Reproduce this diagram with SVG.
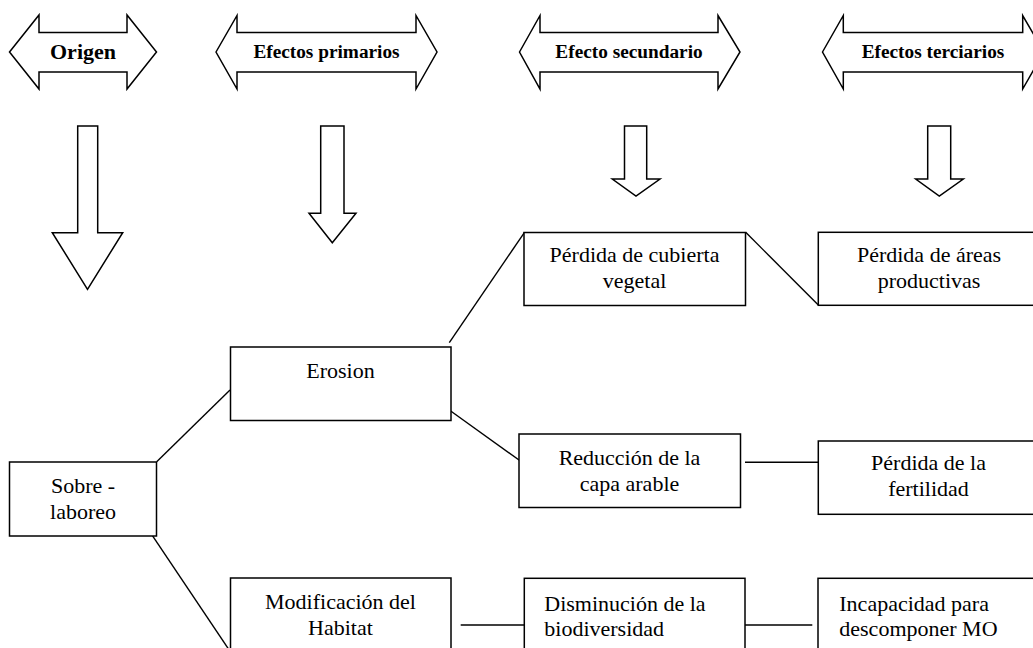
<svg xmlns="http://www.w3.org/2000/svg" width="1033" height="648" viewBox="0 0 1033 648">
<style>
.shape{fill:#fff;stroke:#000;stroke-width:1.5;stroke-linejoin:miter}
.box{fill:#fff;stroke:#000;stroke-width:1.5}
.conn{stroke:#000;stroke-width:1.4;fill:none}
.t{font-family:"Liberation Serif","Times New Roman",serif;font-size:22px;fill:#000}
.c{text-anchor:middle}
.h{font-family:"Liberation Serif","Times New Roman",serif;font-weight:bold;font-size:19.3px;fill:#000;text-anchor:middle}
</style>
<rect width="1033" height="648" fill="#fff"/>
<g id="hdr-origen">
<path class="shape" d="M9.5,52 L39,15 L39,32.5 L127,32.5 L127,15 L156.5,52 L127,89 L127,72 L39,72 L39,89 Z"/>
<text class="h" x="83" y="59" style="font-size:22px">Origen</text>
</g>
<g id="hdr-primarios">
<path class="shape" d="M216,52 L237,15.5 L237,32.5 L416,32.5 L416,15.5 L437,52 L416,89 L416,72 L237,72 L237,89 Z"/>
<text class="h" x="326.5" y="57.5">Efectos primarios</text>
</g>
<g id="hdr-secundario">
<path class="shape" d="M519.5,52 L540,15.5 L540,32.5 L718,32.5 L718,15.5 L740,52 L718,89 L718,72 L540,72 L540,89 Z"/>
<text class="h" x="629" y="57.5">Efecto secundario</text>
</g>
<g id="hdr-terciarios">
<path class="shape" d="M822.5,52 L843.3,15.5 L843.3,32.5 L1022.7,32.5 L1022.7,15.5 L1044,52 L1022.7,89 L1022.7,72 L843.3,72 L843.3,89 Z"/>
<text class="h" x="933" y="57.5">Efectos terciarios</text>
</g>
<g id="down-1">
<path class="shape" d="M77.7,126 L97.7,126 L97.7,232.7 L122.7,232.7 L87.5,289.3 L52.3,232.7 L77.7,232.7 Z"/>
</g>
<g id="down-2">
<path class="shape" d="M320.7,126 L344,126 L344,213.3 L356,213.3 L332.3,242.7 L309,213.3 L320.7,213.3 Z"/>
</g>
<g id="down-3">
<path class="shape" d="M624.5,126 L646.7,126 L646.7,179 L660,179 L636,196 L612.3,179 L624.5,179 Z"/>
</g>
<g id="down-4">
<path class="shape" d="M927.7,126 L950.7,126 L950.7,179 L963.3,179 L939.3,196 L915.7,179 L927.7,179 Z"/>
</g>
<g id="connectors">
<line class="conn" x1="156.7" y1="461.7" x2="230" y2="390"/>
<line class="conn" x1="145.7" y1="525.7" x2="228.5" y2="649"/>
<line class="conn" x1="449.3" y1="342.7" x2="524.5" y2="232.3"/>
<line class="conn" x1="449.3" y1="410" x2="525" y2="464.3"/>
<line class="conn" x1="745.7" y1="232.3" x2="818.3" y2="305"/>
<line class="conn" x1="745" y1="462.3" x2="818.3" y2="462.3"/>
<line class="conn" x1="460.7" y1="625" x2="531.7" y2="625"/>
<line class="conn" x1="741.7" y1="625" x2="812.3" y2="625"/>
</g>
<g id="node-sobre">
<rect class="box" x="9.5" y="462" width="147" height="74"/>
<text class="t c" x="83" y="493">Sobre -</text>
<text class="t c" x="83" y="518.5">laboreo</text>
</g>
<g id="node-erosion">
<rect class="box" x="230.5" y="347" width="220.5" height="73.5"/>
<text class="t c" x="340.5" y="378">Erosion</text>
</g>
<g id="node-modificacion">
<rect class="box" x="230.5" y="578" width="220.5" height="80"/>
<text class="t c" x="340.5" y="609">Modificación del</text>
<text class="t c" x="340.5" y="634.5">Habitat</text>
</g>
<g id="node-cubierta">
<rect class="box" x="524" y="232.5" width="221.5" height="73"/>
<text class="t c" x="634.5" y="262">Pérdida de cubierta</text>
<text class="t c" x="634.5" y="287.5">vegetal</text>
</g>
<g id="node-reduccion">
<rect class="box" x="519" y="434" width="221.5" height="73.5"/>
<text class="t c" x="629.5" y="465">Reducción de la</text>
<text class="t c" x="629.5" y="490.5">capa arable</text>
</g>
<g id="node-disminucion">
<rect class="box" x="524.3" y="578.3" width="220.7" height="80"/>
<text class="t" x="544.3" y="610.5">Disminución de la</text>
<text class="t" x="544.3" y="636">biodiversidad</text>
</g>
<g id="node-areas">
<rect class="box" x="818.3" y="232.3" width="222" height="73"/>
<text class="t c" x="929" y="262">Pérdida de áreas</text>
<text class="t c" x="929" y="287.5">productivas</text>
</g>
<g id="node-fertilidad">
<rect class="box" x="818.3" y="441" width="222" height="73.3"/>
<text class="t c" x="928.5" y="470">Pérdida de la</text>
<text class="t c" x="928.5" y="495.5">fertilidad</text>
</g>
<g id="node-incapacidad">
<rect class="box" x="818" y="578.3" width="222" height="80"/>
<text class="t" x="839.3" y="610.5">Incapacidad para</text>
<text class="t" x="839.3" y="636">descomponer MO</text>
</g>
</svg>
